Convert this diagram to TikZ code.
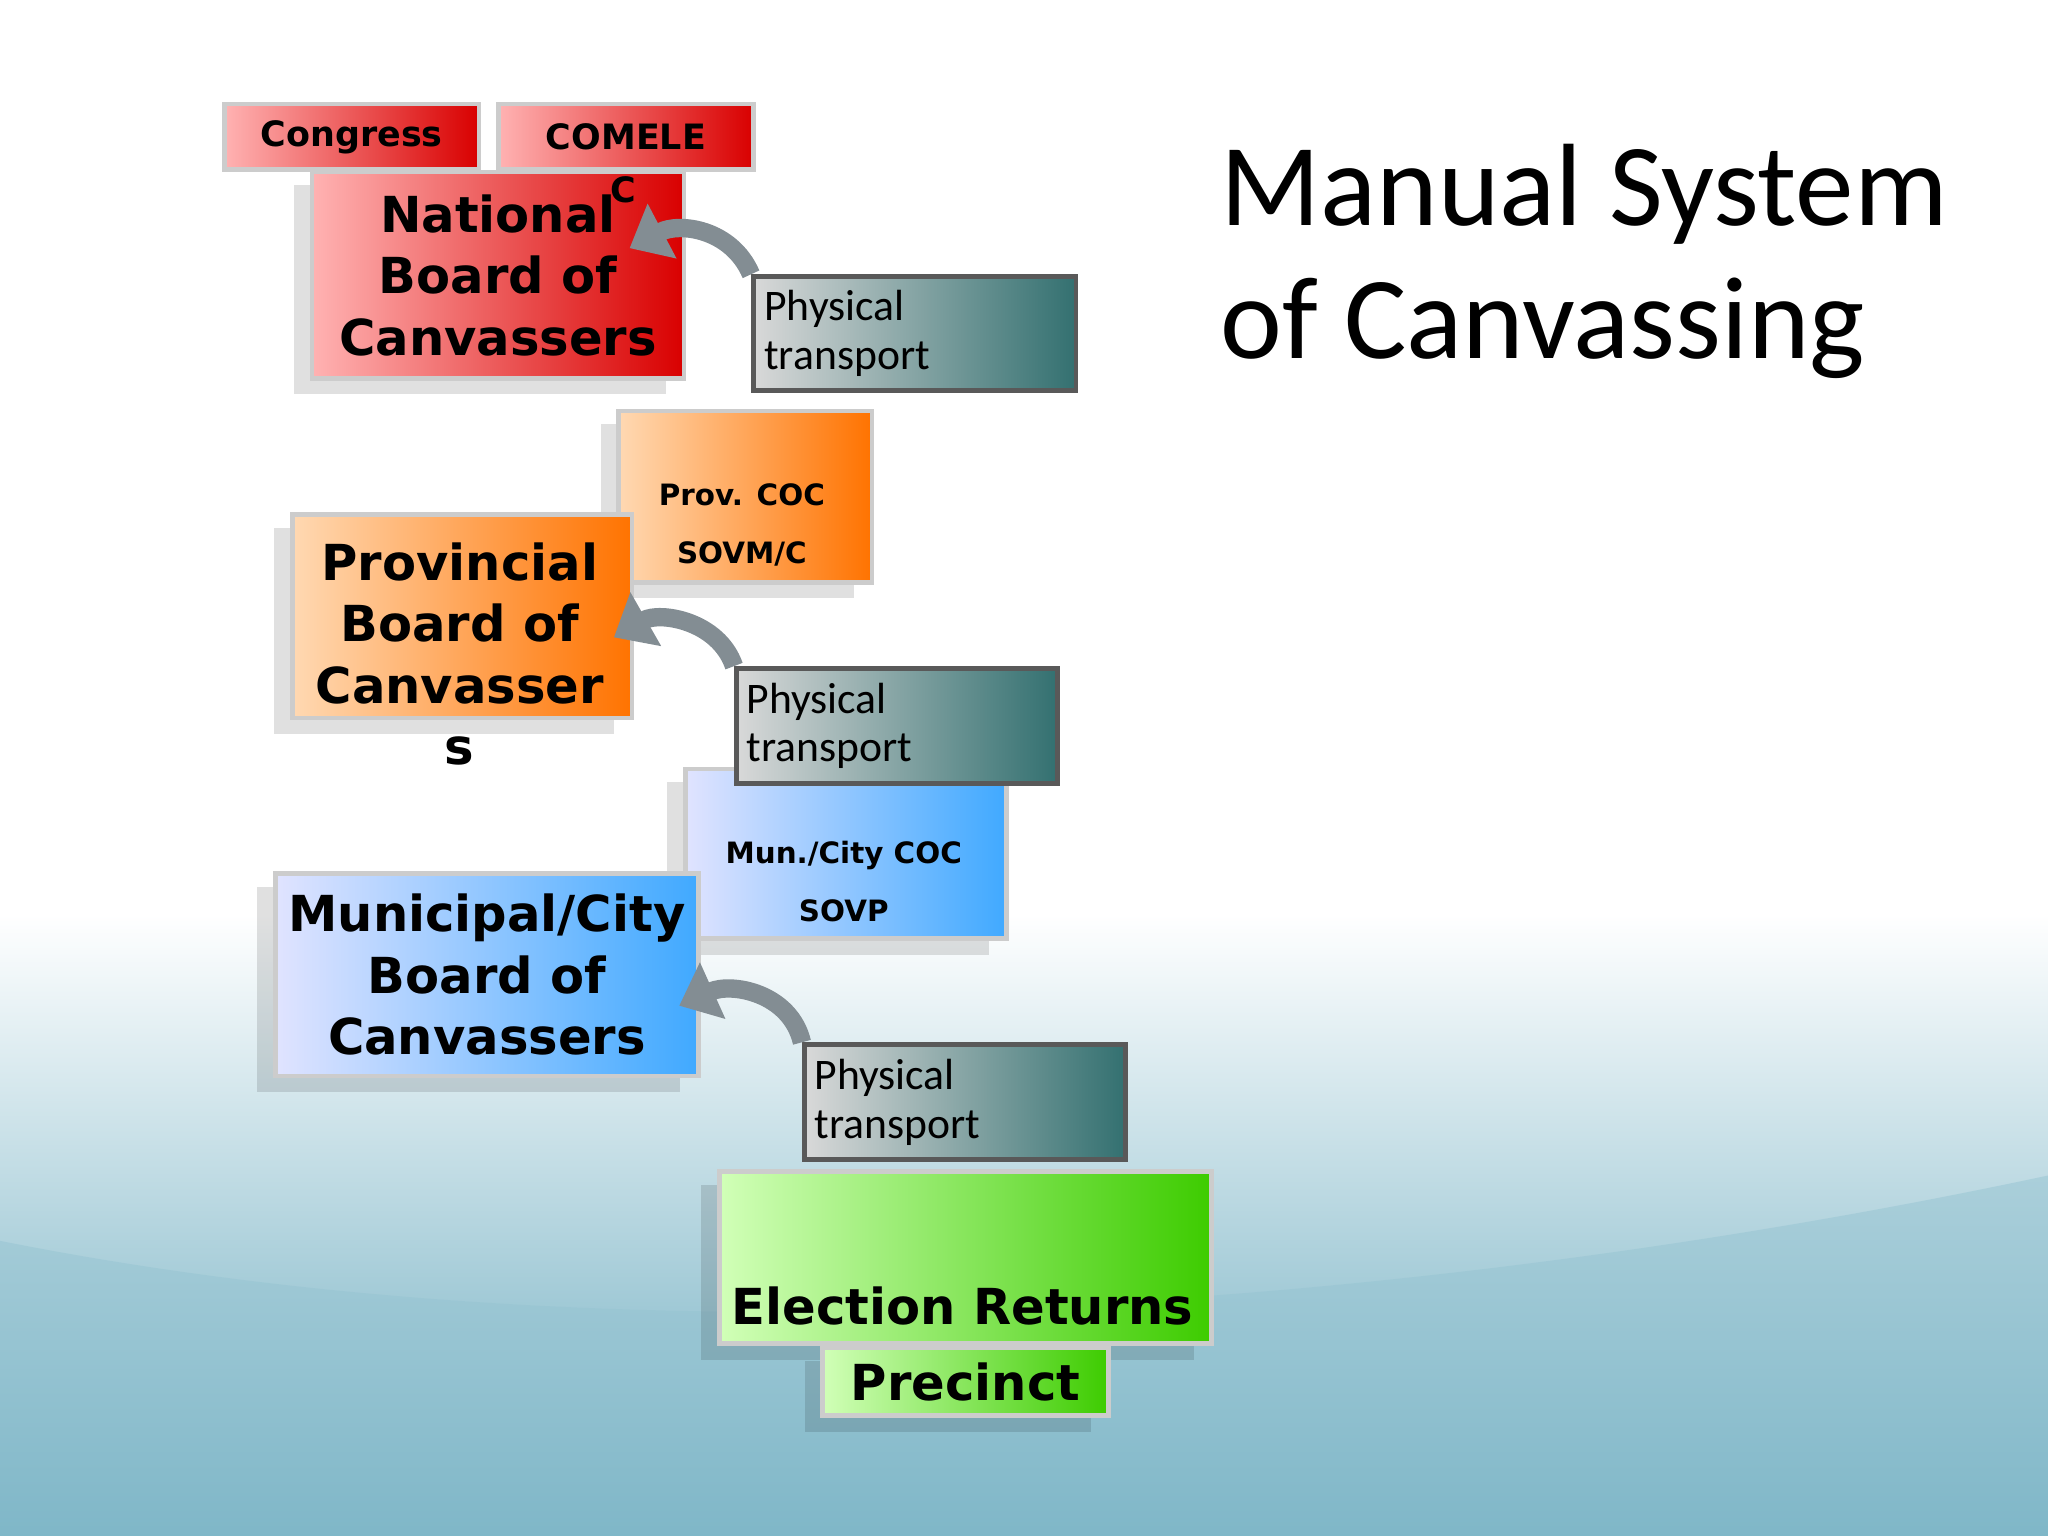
\documentclass[tikz,border=0pt]{standalone}
\usepackage{fontspec}
\setmainfont{DejaVu Sans}
\newfontfamily\calfont{Carlito}
\usetikzlibrary{arrows.meta}
\definecolor{bgteal}{RGB}{105,170,190}
\tikzset{
  bx/.style={draw=white!60!gray, line width=1pt, inner sep=0pt, align=center},
  redb/.style={bx, left color=red!30!white, right color=red!85!black},
  orab/.style={bx, left color=orange!30!white, right color=orange!90!red},
  blub/.style={bx, left color=cyan!10!blue!12!white, right color=cyan!55!blue!75!white},
  greb/.style={bx, left color=green!20!white!90!yellow, right color=green!60!lime!80!black},
  trb/.style={bx, draw=gray!70!black, left color=gray!30, right color=cyan!30!black!80!white, align=left, text width=2.3cm, font=\calfont\fontsize{9.5}{10.6}\selectfont},
  big/.style={font=\bfseries\fontsize{10.8}{13.4}\selectfont},
  sml/.style={font=\bfseries\fontsize{7.6}{9}\selectfont},
  coc/.style={font=\bfseries\fontsize{6.4}{12.5}\selectfont},
  sh/.style={fill=black, opacity=0.12},
  arr/.style={line width=4pt, draw=cyan!20!black!60!white, -{Triangle[length=8pt,width=13pt]}}
}
\newcommand\bxat[4]{\fill[sh] (#1-12,#2+12) rectangle (#3-12,#4+14);}
\begin{document}
\begin{tikzpicture}[x=0.01cm,y=-0.01cm]
\shade[top color=white, bottom color=white] (0,0) rectangle (1568,700);
\shade[top color=white, bottom color=bgteal] (0,700) rectangle (1568,1176);
\fill[bgteal!70!white, opacity=0.5] (0,1176) -- (0,950) .. controls (500,1050) and (1100,1000) .. (1568,900) -- (1568,1176) -- cycle;
\useasboundingbox (0,0) rectangle (1568,1176);
% shadows
\bxat{237}{130}{522}{288}
\bxat{222}{392}{482}{548}
\bxat{209}{667}{533}{822}
\bxat{549}{895}{926}{1027}
\bxat{472}{313}{666}{444}
\bxat{523}{587}{769}{717}
\bxat{628}{1030}{847}{1082}
% boxes
\node[redb, big, minimum width=285*0.01cm, minimum height=158*0.01cm, anchor=north west] (nbc) at (237,130) {National\\Board of\\Canvassers};
\node[redb, sml, minimum width=195*0.01cm, minimum height=50*0.01cm, anchor=north west] (cong) at (170,78) {Congress};
\node[redb, sml, minimum width=195*0.01cm, minimum height=50*0.01cm, anchor=north west] (com) at (380,78) {COMELE};
\node[sml] (comc) at (477,145) {C};
\node[orab, minimum width=194*0.01cm, minimum height=131*0.01cm, anchor=north west] (pcoc) at (472,313) {};
\node[coc, align=center] (pcoct) at (568,402) {Prov. COC\\SOVM/C};
\node[orab, minimum width=260*0.01cm, minimum height=156*0.01cm, anchor=north west] (pbc) at (222,392) {};
\node[big, align=center, anchor=north] (pbct) at (352,403) {Provincial\\Board of\\Canvasser\\s};
\node[blub, minimum width=246*0.01cm, minimum height=130*0.01cm, anchor=north west] (mcoc) at (523,587) {};
\node[coc, align=center] (mcoct) at (646,675) {Mun./City COC\\SOVP};
\node[blub, big, minimum width=324*0.01cm, minimum height=155*0.01cm, anchor=north west] (mbc) at (209,667) {Municipal/City\\Board of\\Canvassers};
\node[greb, minimum width=377*0.01cm, minimum height=132*0.01cm, anchor=north west] (er) at (549,895) {};
\node[big] (ert) at (737,1000) {Election Returns};
\node[greb, big, minimum width=219*0.01cm, minimum height=52*0.01cm, anchor=north west] (prec) at (628,1030) {Precinct};
% transports
\node[trb, minimum width=247*0.01cm, minimum height=87*0.01cm, anchor=north west] (t1) at (575,210) {Physical\\transport};
\node[trb, minimum width=246*0.01cm, minimum height=88*0.01cm, anchor=north west] (t2) at (562,510) {Physical\\transport};
\node[trb, minimum width=246*0.01cm, minimum height=88*0.01cm, anchor=north west] (t3) at (614,798) {Physical\\transport};
% arrows
\draw[arr] (t1.north west) .. controls (560,175) and (520,170) .. (482,190);
\draw[arr] (t2.north west) .. controls (550,475) and (505,468) .. (470,488);
\draw[arr] (t3.north west) .. controls (605,760) and (560,752) .. (520,770);
% title
\node[anchor=west, font=\calfont\fontsize{25.5}{29}\selectfont, align=left] (title) at (922,200) {Manual System\\of Canvassing};
\end{tikzpicture}
\end{document}
